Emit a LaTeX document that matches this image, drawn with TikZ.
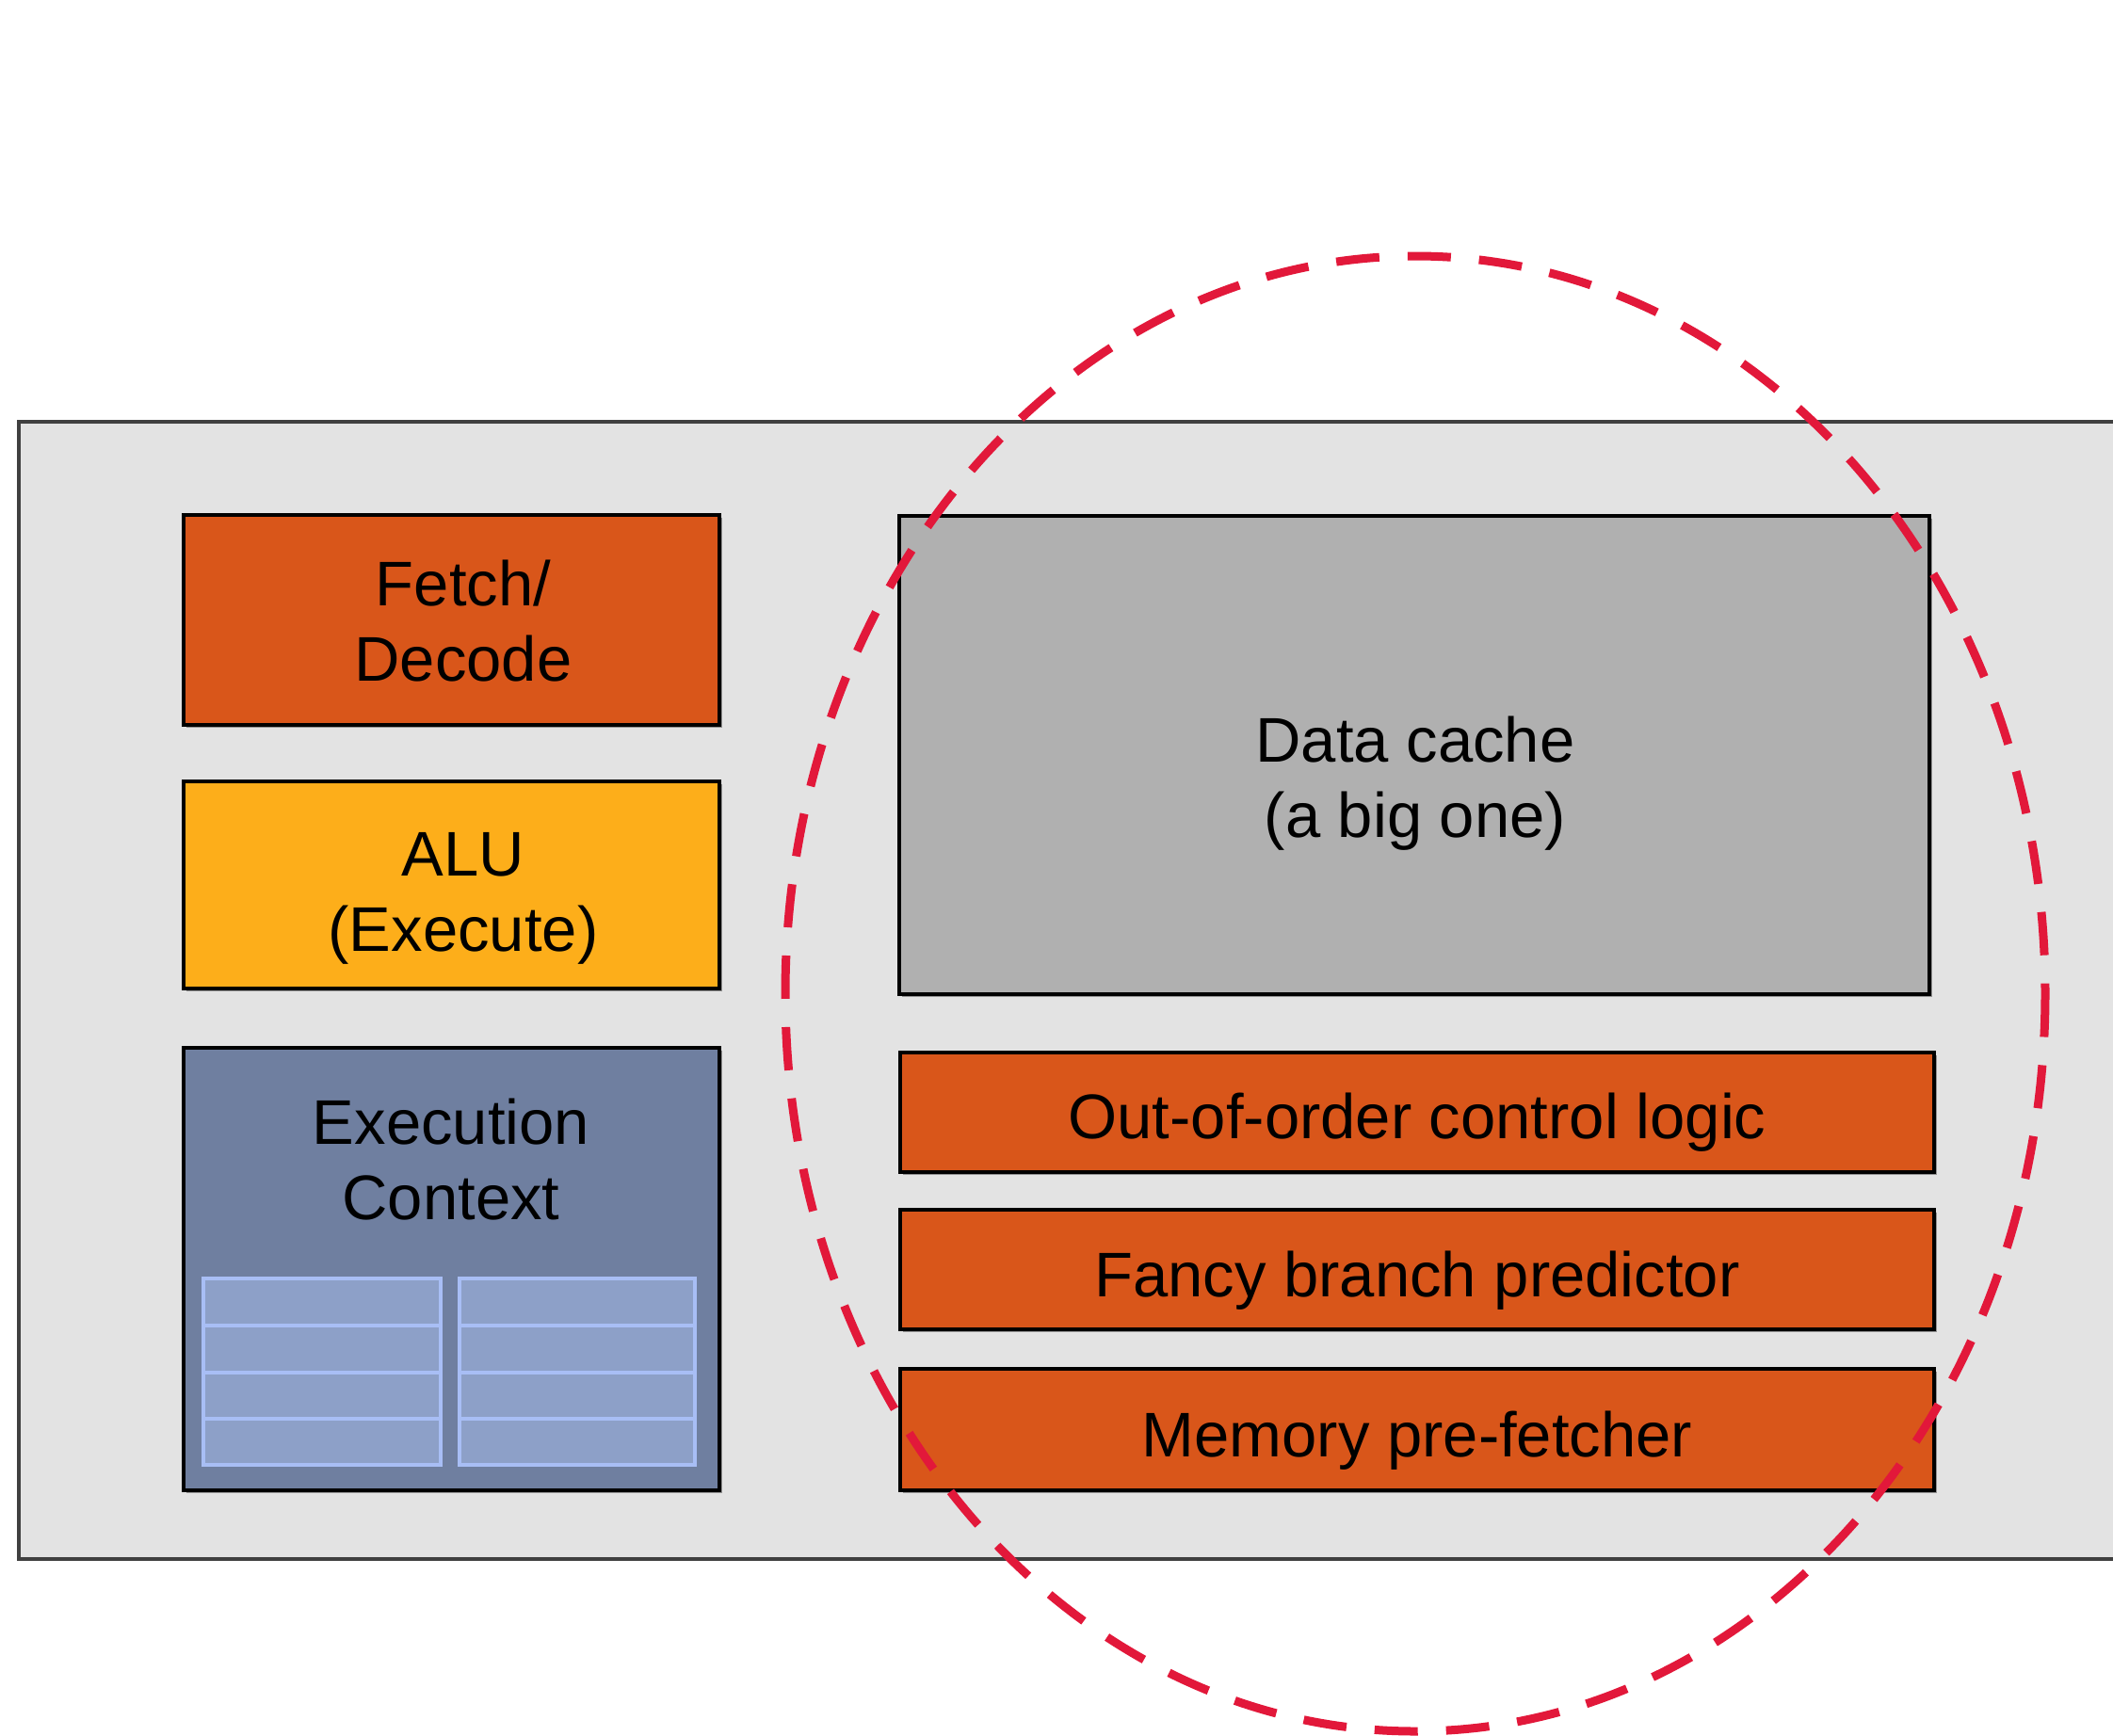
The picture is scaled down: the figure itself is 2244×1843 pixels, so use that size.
\documentclass[tikz,border=0pt]{standalone}
\usepackage{fontspec}
\setmainfont{Liberation Sans}
\usetikzlibrary{shadows}
\definecolor{bgc}{RGB}{227,227,227}
\definecolor{framec}{RGB}{64,64,64}
\definecolor{orangec}{RGB}{217,86,26}
\definecolor{aluc}{RGB}{253,174,26}
\definecolor{ctxc}{RGB}{111,127,160}
\definecolor{regfill}{RGB}{141,160,200}
\definecolor{regdraw}{RGB}{168,190,245}
\definecolor{cachec}{RGB}{176,176,176}
\definecolor{redc}{RGB}{226,24,58}
\begin{document}
\begin{tikzpicture}[x=0.5pt,y=-0.5pt,
  box/.style={draw=black, line width=2pt, rectangle, inner sep=0pt,
    drop shadow={shadow xshift=1.5pt, shadow yshift=-1.5pt, fill=black, opacity=0.35}},
  lbl/.style={align=center, inner sep=0pt, font=\fontsize{33.5}{40}\selectfont},
  reg/.style={fill=regfill, draw=regdraw, line width=2pt},
  ring/.style={draw=redc, line width=4.5pt, dash pattern=on 23pt off 15pt}]
\useasboundingbox (0,0) rectangle (2244,1843);
\fill[white] (0,0) rectangle (2244,1843);
% chip
\draw[fill=bgc, draw=framec, line width=1.6pt] (20,448) rectangle (2270,1656);
% left column
\node[box, fill=orangec, minimum width=284.5pt, minimum height=111.5pt] (fetch) at (479.5,658.5) {};
\node[lbl] (fetchtext) at (492,660) {Fetch/\\Decode};
\node[box, fill=aluc, minimum width=284.5pt, minimum height=110pt] (alu) at (479.5,940) {};
\node[lbl] (alutext) at (492,954) {ALU\\(Execute)};
\node[box, fill=ctxc, minimum width=284.5pt, minimum height=235pt] (ctx) at (479.5,1348) {};
\node[lbl] (ctxtext) at (479,1232) {Execution\\Context};
% registers
\foreach \xa/\xb in {216/468, 488/738}{
  \foreach \ya/\yb in {1358/1408, 1408/1458, 1458/1507, 1507/1556}{
    \draw[reg] (\xa,\ya) rectangle (\xb,\yb);
  }
}
% right column
\node[box, fill=cachec, minimum width=547pt, minimum height=254pt] (cache) at (1502,802) {};
\node[lbl] (cachetext) at (1503,832) {Data cache\\(a big one)};
\node[box, fill=orangec, minimum width=549pt, minimum height=63.5pt] (ooo) at (1505,1181.5) {};
\node[lbl] (ootext) at (1505,1192) {Out-of-order control logic};
\node[box, fill=orangec, minimum width=549pt, minimum height=63.5pt] (branch) at (1505,1348.5) {};
\node[lbl] (branchtext) at (1505,1360) {Fancy branch predictor};
\node[box, fill=orangec, minimum width=549pt, minimum height=64.5pt] (prefetch) at (1505,1518.5) {};
\node[lbl] (prefetchtext) at (1505,1530) {Memory pre-fetcher};
% highlight
\draw[ring] (1503,1055.5) ellipse [x radius=669, y radius=783.5];
\end{tikzpicture}
\end{document}
